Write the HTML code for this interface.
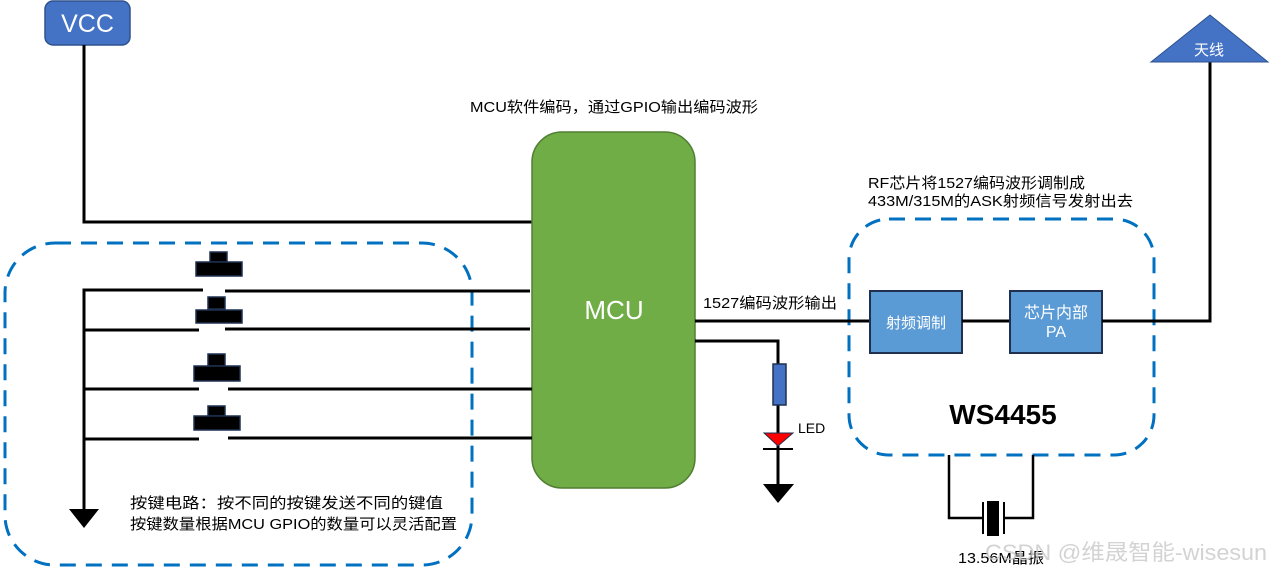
<!DOCTYPE html>
<html><head><meta charset="utf-8"><style>
html,body{margin:0;padding:0;background:#fff;}
svg{display:block;}
text{font-family:"Liberation Sans","Noto Sans CJK SC",sans-serif;}
</style></head><body>
<svg width="1270" height="574" viewBox="0 0 1270 574" xmlns="http://www.w3.org/2000/svg">
<rect x="5" y="243" width="467" height="322" rx="50" fill="none" stroke="#0070c0" stroke-width="3" stroke-dasharray="16,10"/>
<rect x="849" y="219" width="305" height="236" rx="40" fill="none" stroke="#0070c0" stroke-width="3" stroke-dasharray="16,10"/>
<rect x="45" y="1" width="85" height="44" rx="8" fill="#4472c4" stroke="#2f528f" stroke-width="1.5"/>
<text x="87.5" y="32" font-size="25" fill="#fff" text-anchor="middle">VCC</text>
<polyline points="84,45 84,222 532,222" fill="none" stroke="#000" stroke-width="3"/>
<rect x="532" y="132" width="163" height="356" rx="30" fill="#70ad47" stroke="#507e32" stroke-width="1.5"/>
<text x="614" y="319" font-size="26" fill="#fff" text-anchor="middle">MCU</text>
<text x="470" y="112" font-size="15" fill="#000" textLength="288" lengthAdjust="spacingAndGlyphs">MCU软件编码，通过GPIO输出编码波形</text>
<g stroke="#000" stroke-width="3" fill="none">
<polyline points="203,290 84,290 84,510"/>
<line x1="225" y1="291" x2="530" y2="291"/>
<line x1="84" y1="330" x2="199" y2="330"/>
<line x1="225" y1="329" x2="530" y2="329"/>
<line x1="84" y1="389" x2="199" y2="389"/>
<line x1="228" y1="389" x2="532" y2="389"/>
<line x1="84" y1="439" x2="199" y2="439"/>
<line x1="228" y1="438" x2="532" y2="438"/>
</g>
<g fill="#000" stroke="#1f3050" stroke-width="1.5">
<rect x="210" y="252" width="17" height="10"/><rect x="196" y="262" width="46" height="14"/>
<rect x="208" y="297" width="17" height="12"/><rect x="196" y="310" width="46" height="13"/>
<rect x="208" y="354" width="17" height="12"/><rect x="194" y="366" width="46" height="15"/>
<rect x="208" y="406" width="17" height="10"/><rect x="194" y="416" width="46" height="14"/>
</g>
<polygon points="69,509 99,509 84,528" fill="#000"/>
<text x="130" y="508" font-size="15" fill="#000" textLength="313" lengthAdjust="spacingAndGlyphs">按键电路：按不同的按键发送不同的键值</text>
<text x="130" y="529" font-size="15" fill="#000" textLength="327" lengthAdjust="spacingAndGlyphs">按键数量根据MCU GPIO的数量可以灵活配置</text>
<line x1="695" y1="321" x2="870" y2="321" stroke="#000" stroke-width="3"/>
<text x="703" y="308" font-size="15" fill="#000" textLength="134" lengthAdjust="spacingAndGlyphs">1527编码波形输出</text>
<polyline points="695,341 778,341 778,485" fill="none" stroke="#000" stroke-width="3"/>
<rect x="773" y="364" width="13" height="41" fill="#4472c4" stroke="#1f3050" stroke-width="1.5"/>
<polygon points="764,433 793,433 778,446" fill="#ff0000" stroke="#1f3050" stroke-width="1"/>
<line x1="763" y1="449" x2="793" y2="449" stroke="#000" stroke-width="2"/>
<polygon points="763,484 794,484 778,503" fill="#000"/>
<text x="798" y="433" font-size="14" fill="#000">LED</text>
<text x="868" y="188" font-size="15" fill="#000" textLength="217" lengthAdjust="spacingAndGlyphs">RF芯片将1527编码波形调制成</text>
<text x="868" y="206" font-size="15" fill="#000" textLength="265" lengthAdjust="spacingAndGlyphs">433M/315M的ASK射频信号发射出去</text>
<rect x="870" y="291" width="92" height="62" fill="#5b9bd5" stroke="#1f3050" stroke-width="2"/>
<text x="916" y="328" font-size="15" fill="#fff" text-anchor="middle">射频调制</text>
<line x1="962" y1="321" x2="1010" y2="321" stroke="#000" stroke-width="3"/>
<rect x="1010" y="291" width="92" height="62" fill="#5b9bd5" stroke="#1f3050" stroke-width="2"/>
<text x="1056" y="318" font-size="16" fill="#fff" text-anchor="middle">芯片内部</text>
<text x="1056" y="337" font-size="16" fill="#fff" text-anchor="middle">PA</text>
<polyline points="1102,321 1210,321 1210,60" fill="none" stroke="#000" stroke-width="3"/>
<polygon points="1210,15 1268,62 1151,62" fill="#4472c4" stroke="#2f528f" stroke-width="1"/>
<text x="1209" y="55" font-size="15" fill="#fff" text-anchor="middle">天线</text>
<text x="1003" y="424" font-size="28" font-weight="bold" fill="#000" text-anchor="middle">WS4455</text>
<polyline points="949,455 949,518 982,518" fill="none" stroke="#000" stroke-width="2.5"/>
<polyline points="1005,518 1033,518 1033,455" fill="none" stroke="#000" stroke-width="2.5"/>
<line x1="983" y1="502" x2="983" y2="534" stroke="#000" stroke-width="2"/>
<line x1="1004" y1="502" x2="1004" y2="534" stroke="#000" stroke-width="2"/>
<rect x="987" y="501" width="12" height="35" fill="#000"/>
<text x="958" y="563" font-size="15" fill="#000" textLength="86" lengthAdjust="spacingAndGlyphs">13.56M晶振</text>
<text x="985" y="560" font-size="22" fill="#c8c8c8" fill-opacity="0.8" textLength="282" lengthAdjust="spacingAndGlyphs">CSDN @维晟智能-wisesun</text>
</svg>
</body></html>
